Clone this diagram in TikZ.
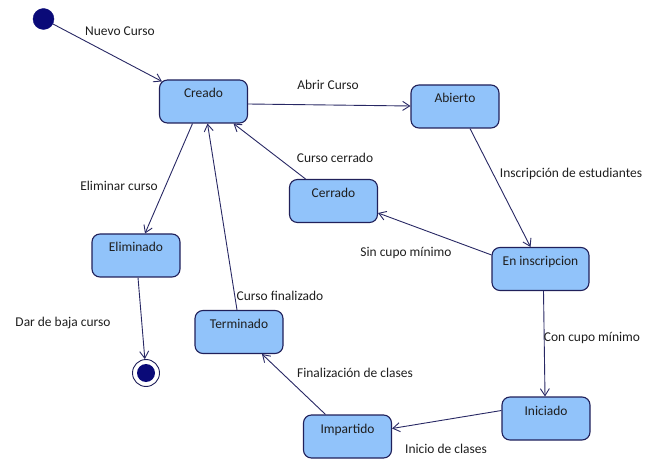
\documentclass[tikz,border=0pt]{standalone}
\usepackage{fontspec}
\setmainfont{Carlito}
\usetikzlibrary{arrows.meta}
\definecolor{statefill}{RGB}{145,195,250}
\definecolor{stateline}{RGB}{32,32,90}
\definecolor{edgeline}{RGB}{40,40,100}
\definecolor{dotfill}{RGB}{10,10,120}
\definecolor{txt}{RGB}{30,30,30}
\begin{document}
\begin{tikzpicture}[x=1bp,y=-1bp,
  font=\fontsize{13.5}{15}\selectfont,
  state/.style={draw=stateline,line width=1.1bp,fill=statefill,rounded corners=8bp,
    minimum width=88bp,inner xsep=4bp,inner ysep=4bp,
    text height=14bp,text depth=21bp,text=txt},
  trans/.style={draw=edgeline,line width=0.9bp,-{Straight Barb[length=7bp,width=9bp]}},
  lbl/.style={text=txt,inner sep=1bp},
  initdot/.style={circle,fill=dotfill,draw=dotfill,minimum size=21bp,inner sep=0pt},
  finalring/.style={circle,draw=stateline,line width=0.9bp,fill=white,minimum size=27bp,inner sep=0pt}
]
\useasboundingbox (0,0) rectangle (649,459);

% states
\node[initdot] (init) at (43.5,19) {};
\node[state] (creado) at (203.5,101.5) {Creado};
\node[state] (abierto) at (455,106.5) {Abierto};
\node[state] (cerrado) at (333.5,201) {Cerrado};
\node[state] (eliminado) at (136,255.5) {Eliminado};
\node[state,minimum width=97bp] (eninsc) at (540.5,269) {En inscripcion};
\node[state] (terminado) at (239,332) {Terminado};
\node[state] (iniciado) at (546,418.5) {Iniciado};
\node[state] (impartido) at (347.5,436.5) {Impartido};
\node[finalring] (final) at (146,373) {};
\fill[dotfill] (final.center) circle[radius=9bp];

% transitions
\draw[trans] (init) -- ([xshift=3bp,yshift=-2bp]creado.north west);
\draw[trans] ([yshift=-2.5bp]creado.east) -- ([yshift=0.5bp]abierto.west);
\draw[trans] ([xshift=15bp]abierto.south) -- ([xshift=-10bp]eninsc.north);
\draw[trans] ([yshift=-8bp]eninsc.north west) -- ([yshift=-12bp]cerrado.east);
\draw[trans] ([xshift=-28bp]cerrado.north) -- ([xshift=30bp]creado.south);
\draw[trans] ([xshift=-11bp]creado.south) -- ([xshift=9bp]eliminado.north);
\draw[trans] ([xshift=2bp]eliminado.south) -- (final);
\draw[trans] ([xshift=-2bp]terminado.north) -- ([xshift=4bp]creado.south);
\draw[trans] ([xshift=3bp]eninsc.south) -- ([xshift=-1bp]iniciado.north);
\draw[trans] ([yshift=8bp]iniciado.west) -- ([yshift=8bp]impartido.east);
\draw[trans] ([xshift=-22bp]impartido.north) -- ([xshift=23bp]terminado.south);

% transition labels
\node[lbl] (lnuevo) at (120,31) {Nuevo Curso};
\node[lbl] (labrir) at (328,85) {Abrir Curso};
\node[lbl] (lcerrado) at (335,158) {Curso cerrado};
\node[lbl] (lelim) at (119,186) {Eliminar curso};
\node[lbl] (lbaja) at (63,323) {Dar de baja curso};
\node[lbl] (lfin) at (280,296) {Curso finalizado};
\node[lbl] (lsin) at (406,253) {Sin cupo mínimo};
\node[lbl] (lcon) at (592,338) {Con cupo mínimo};
\node[lbl] (lfinal) at (355,373) {Finalización de clases};
\node[lbl] (linicio) at (446,449) {Inicio de clases};
\node[lbl] (linsc) at (571,174) {Inscripción de estudiantes};
\end{tikzpicture}
\end{document}
